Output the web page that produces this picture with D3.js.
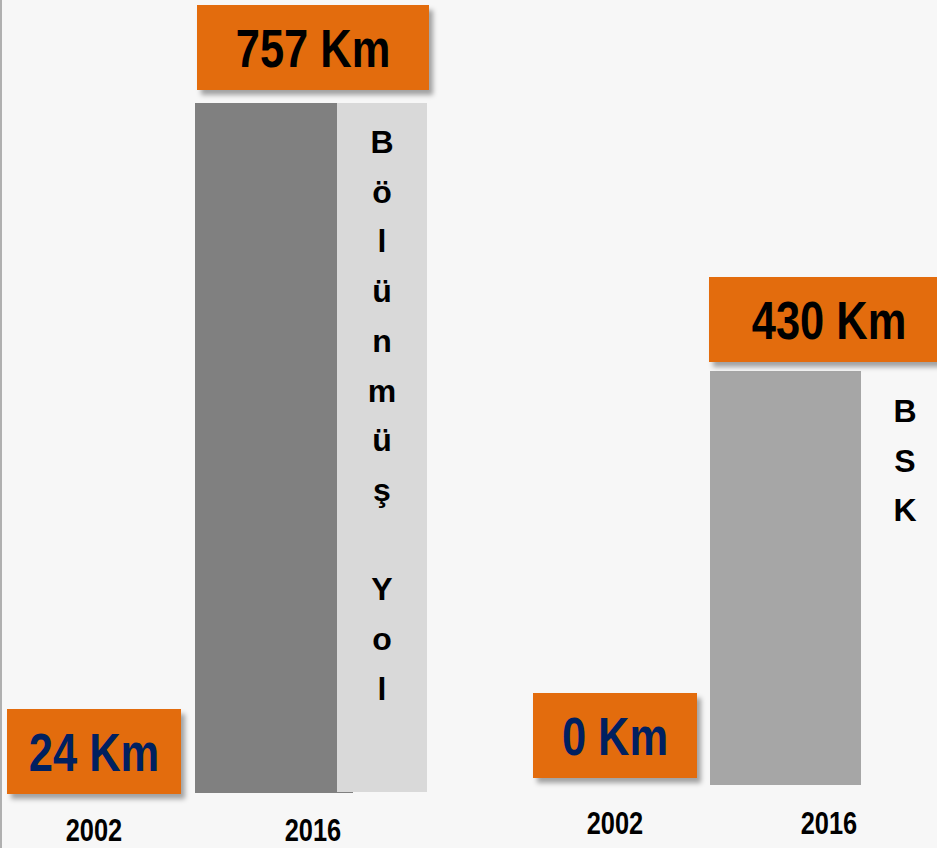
<!DOCTYPE html>
<html>
<head>
<meta charset="utf-8">
<script src="https://cdn.jsdelivr.net/npm/d3@7"></script>
<style>
  html, body { margin: 0; padding: 0; background: #f7f7f7; }
  svg { display: block; }
</style>
</head>
<body>
<svg id="chart" width="937" height="848"></svg>
<script>
// ---- data ----
const years = ["2002", "2016"];
const bolunmusValues = [24, 757];
const bskValues = [0, 430];
const seriesNames = ["Bölünmüş Yol", "BSK"];
const unit = "Km";

// ---- layout ----
const W = 937, H = 848;
const ORANGE = "#e36c0a";
const SANS = "'Liberation Sans', Arial, sans-serif";
const CONDENSE = 0.82; // emulate Arial Narrow

const svg = d3.select("#chart");
svg.append("rect").attr("width", W).attr("height", H).attr("fill", "#f7f7f7");
svg.append("line").attr("x1", 1).attr("x2", 1).attr("y1", 0).attr("y2", H)
  .attr("stroke", "#b0b0b0").attr("stroke-width", 2);

const defs = svg.append("defs");
const f = defs.append("filter").attr("id", "shadow")
  .attr("x", "-10%").attr("y", "-10%").attr("width", "130%").attr("height", "140%");
f.append("feDropShadow").attr("dx", 4).attr("dy", 5).attr("stdDeviation", 2.5)
  .attr("flood-color", "#000").attr("flood-opacity", 0.35);

const panels = [
  {
    values: bolunmusValues, name: seriesNames[0],
    x: d3.scalePoint().domain(years).range([94, 313]),
    y: d3.scaleLinear().domain([0, d3.max(bolunmusValues)]).range([793, 103]),
    barColor: "#808080", barW: 158, barShift: 118,
    topBoxW: 232, topGap: 14, lowBoxW: 174, lowBoxBottom: 794,
    labelBox: { x0: 337, x1: 427 }, letterX: 382, letterY0: 153,
    yearBaseline: 841
  },
  {
    values: bskValues, name: seriesNames[1],
    x: d3.scalePoint().domain(years).range([615, 829]),
    y: d3.scaleLinear().domain([0, d3.max(bskValues)]).range([785, 371]),
    barColor: "#a6a6a6", barW: 151, barShift: 119,
    topBoxW: 240, topGap: 10, lowBoxW: 164, lowBoxBottom: 778,
    labelBox: null, letterX: 905, letterY0: 422,
    yearBaseline: 834
  }
];

const BOX_H = 85;
const VAL_FS = 53;
const LETTER_STEP = 49.7;

function narrowText(sel, x, y) {
  return sel.attr("transform", `translate(${x},${y}) scale(${CONDENSE},1)`)
    .attr("x", 0).attr("y", 0)
    .attr("text-anchor", "middle")
    .attr("font-family", SANS).attr("font-weight", "bold");
}

panels.forEach(p => {
  const g = svg.append("g");
  const y0 = p.y(0);

  // bars
  g.selectAll("rect.bar").data(p.values).join("rect")
    .attr("class", "bar")
    .attr("x", (d, i) => i === 0 ? p.x(years[i]) - p.barW / 2 : p.x(years[i]) - p.barShift)
    .attr("y", d => p.y(d))
    .attr("width", p.barW)
    .attr("height", d => y0 - p.y(d))
    .attr("fill", p.barColor);

  // series label column
  if (p.labelBox) {
    g.append("rect")
      .attr("x", p.labelBox.x0).attr("y", p.y(d3.max(p.values)))
      .attr("width", p.labelBox.x1 - p.labelBox.x0)
      .attr("height", y0 - 1 - p.y(d3.max(p.values)))
      .attr("fill", "#d9d9d9");
  }
  const letters = Array.from(p.name);
  g.selectAll("text.letter").data(letters).join("text")
    .attr("class", "letter")
    .attr("x", p.letterX)
    .attr("y", (d, i) => p.letterY0 + i * LETTER_STEP)
    .attr("text-anchor", "middle")
    .attr("font-family", SANS).attr("font-weight", "bold").attr("font-size", 32)
    .attr("fill", "#000")
    .text(d => d);

  // value boxes
  p.values.forEach((v, i) => {
    const cx = p.x(years[i]);
    let bw, top;
    if (i === 0) { bw = p.lowBoxW; top = p.lowBoxBottom - BOX_H; }
    else { bw = p.topBoxW; top = p.y(v) - p.topGap - BOX_H + 1; }
    g.append("rect")
      .attr("x", cx - bw / 2).attr("y", top)
      .attr("width", bw).attr("height", BOX_H)
      .attr("fill", ORANGE).attr("filter", "url(#shadow)");
    narrowText(g.append("text"), cx, top + BOX_H / 2 + VAL_FS * 0.36)
      .attr("font-size", VAL_FS)
      .attr("fill", i === 0 ? "#002060" : "#000")
      .text(`${v} ${unit}`);
  });

  // year labels
  years.forEach(yr => {
    narrowText(g.append("text"), p.x(yr), p.yearBaseline)
      .attr("font-size", 31)
      .attr("fill", "#000")
      .text(yr);
  });
});
</script>
</body>
</html>
